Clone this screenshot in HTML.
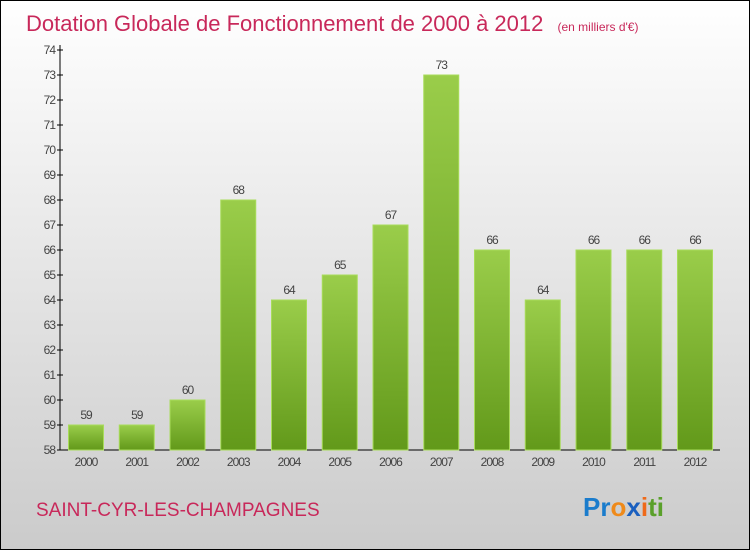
<!DOCTYPE html>
<html><head><meta charset="utf-8"><style>
body{margin:0}
#c{width:750px;height:550px;position:relative;overflow:hidden}
</style></head><body>
<div id="c">
<svg id="s" width="750" height="550" xmlns="http://www.w3.org/2000/svg" font-family="Liberation Sans, sans-serif">
<defs>
<linearGradient id="bg" x1="0" y1="0" x2="0" y2="1"><stop offset="0" stop-color="#ffffff"/><stop offset="1" stop-color="#cbcbcb"/></linearGradient>
<linearGradient id="bar" x1="0" y1="0" x2="0" y2="1"><stop offset="0" stop-color="#9acd4a"/><stop offset="1" stop-color="#62991a"/></linearGradient>
</defs>
<rect x="0.5" y="0.5" width="749" height="549" fill="url(#bg)" stroke="#000"/>
<text x="26" y="31" font-size="22" fill="#c8285a">Dotation Globale de Fonctionnement de 2000 à 2012 <tspan font-size="12" dx="8">(en milliers d'€)</tspan></text>
<text x="36" y="516" font-size="19" fill="#c8285a">SAINT-CYR-LES-CHAMPAGNES</text>
<text x="583" y="516" font-size="26" font-weight="bold"><tspan fill="#1a7ccc">Pr</tspan><tspan fill="#ef8a1a">o</tspan><tspan fill="#1a5fbf">x</tspan><tspan fill="#ef6a1a">i</tspan><tspan fill="#5aa02a">ti</tspan></text>
<g id="g"></g>
</svg>
</div>
<script>
const years=["2000","2001","2002","2003","2004","2005","2006","2007","2008","2009","2010","2011","2012"];
const values=[59,59,60,68,64,65,67,73,66,64,66,66,66];
const yTicks=[58,59,60,61,62,63,64,65,66,67,68,69,70,71,72,73,74];
const NS="http://www.w3.org/2000/svg",g=document.getElementById('g');
const y=v=>450-(v-58)*25, x=i=>86+i*50.75;
function mk(t,a,txt){const e=document.createElementNS(NS,t);for(const k in a)e.setAttribute(k,a[k]);if(txt!=null)e.textContent=txt;g.appendChild(e);return e;}
let e=mk('line',{x1:60,y1:45,x2:60,y2:450,stroke:'#000'});


e=mk('line',{x1:60,y1:450,x2:720,y2:450,stroke:'#000'});


yTicks.forEach(v=>{
 let t=mk('line',{x1:57,y1:y(v),x2:63,y2:y(v),stroke:'#000'});
 
 
 t=mk('text',{x:55,y:y(v)+4,'font-size':12,'text-anchor':'end',fill:'#444','letter-spacing':'-1'},v);
 
 
});
years.forEach((yr,i)=>{
 const v=values[i];
 let r=mk('rect',{x:x(i)-17.5,y:y(v),width:35,height:450-y(v),fill:'url(#bar)',stroke:'#a8dc5a','stroke-width':1});
 
 
 let t=mk('text',{x:x(i),y:y(v)-6,'font-size':12,'text-anchor':'middle',fill:'#444','letter-spacing':'-1'},v);
 
 
 t=mk('text',{x:x(i),y:466,'font-size':12,'text-anchor':'middle',fill:'#444','letter-spacing':'-1'},yr);
 
 
});
</script>
</body></html>
